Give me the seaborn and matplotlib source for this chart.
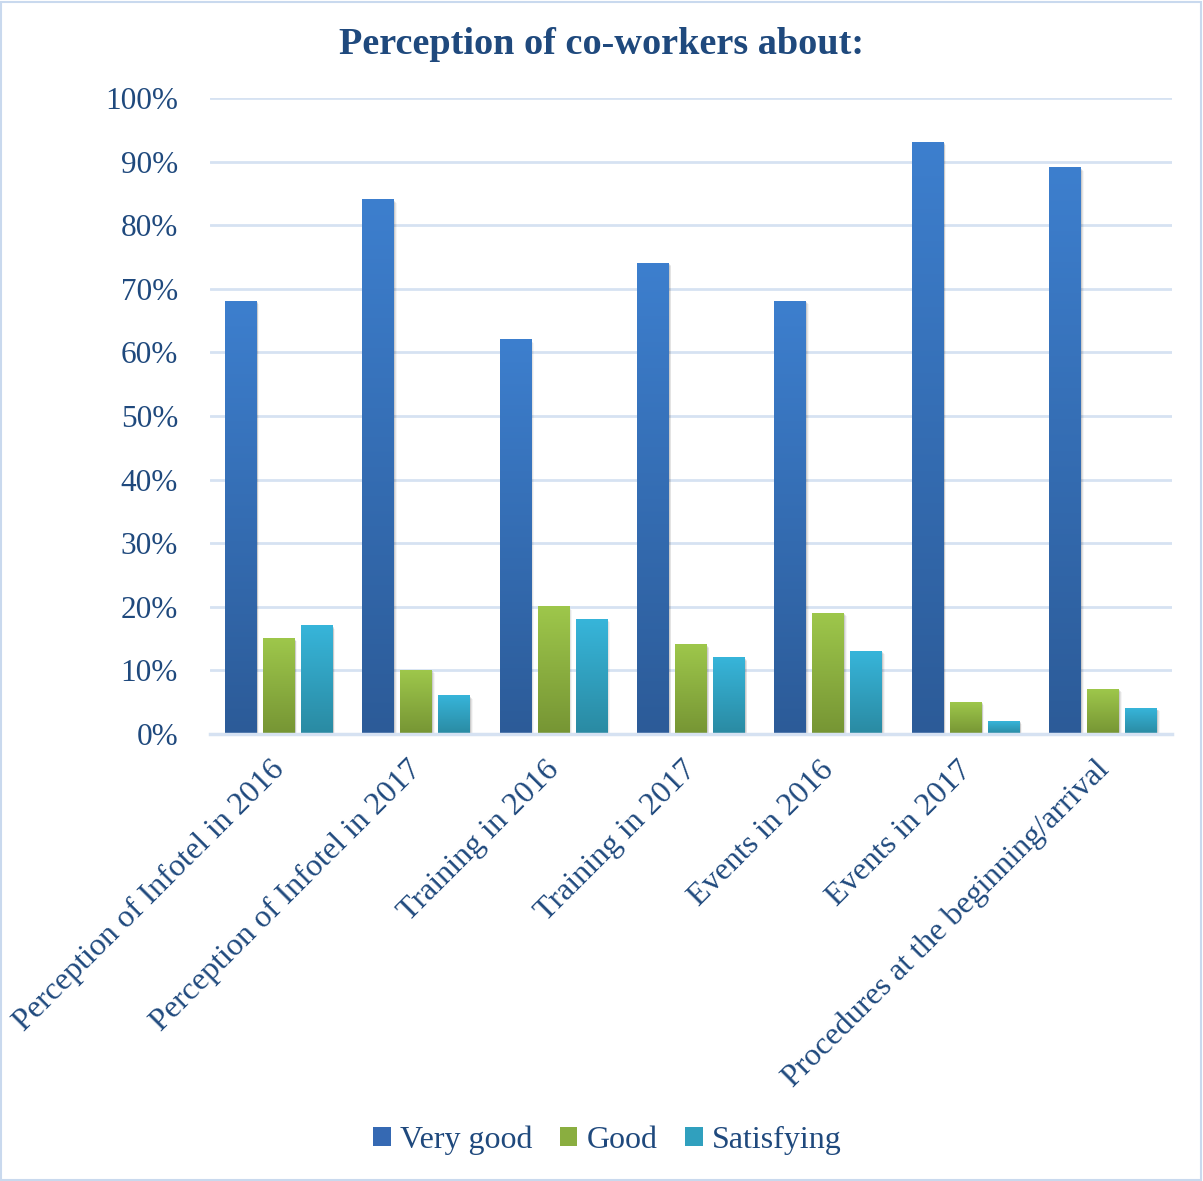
import numpy as np
import pandas as pd
import matplotlib
matplotlib.use("Agg")
import matplotlib.pyplot as plt
import seaborn as sns
from matplotlib.colors import LinearSegmentedColormap
from matplotlib.patches import Patch, Rectangle
from matplotlib.ticker import PercentFormatter
from matplotlib.transforms import ScaledTranslation

categories = [
    "Perception of Infotel in 2016",
    "Perception of Infotel in 2017",
    "Training in 2016",
    "Training in 2017",
    "Events in 2016",
    "Events in 2017",
    "Procedures at the beginning/arrival",
]
series = ["Very good", "Good", "Satisfying"]
very_good = [68, 84, 62, 74, 68, 93, 89]
good = [15, 10, 20, 14, 19, 5, 7]
satisfying = [17, 6, 18, 12, 13, 2, 4]
y_ticks = [0, 10, 20, 30, 40, 50, 60, 70, 80, 90, 100]
title = "Perception of co-workers about:"

rows = []
for name, vals in zip(series, [very_good, good, satisfying]):
    for c, v in zip(categories, vals):
        rows.append({"category": c, "series": name, "value": v})
df = pd.DataFrame(rows)

top_colors = {"Very good": "#3D7FCE", "Good": "#9EC74B", "Satisfying": "#37B5DA"}
bot_colors = {"Very good": "#2C5B98", "Good": "#769534", "Satisfying": "#2A8AA2"}
mid_colors = {"Very good": "#3569B3", "Good": "#8AAE40", "Satisfying": "#30A0BE"}

text_color = "#1F497D"
grid_color = "#D6E2F2"

sns.set_theme(style="white")
plt.rcParams["font.family"] = ["Liberation Serif", "DejaVu Serif"]

fig = plt.figure(figsize=(12.03, 11.81), dpi=100)
ax = fig.add_axes([0.1746, 0.3785, 0.7996, 0.5385])

sns.barplot(data=df, x="category", y="value", hue="series", order=categories,
            hue_order=series, palette=mid_colors, width=0.83, gap=0.16,
            legend=False, ax=ax, zorder=3)

ax.set_ylim(0, 100)
xlim = ax.get_xlim()

# gradient fill + soft shadow
for cont, name in zip(ax.containers, series):
    cmap = LinearSegmentedColormap.from_list(name, [bot_colors[name], top_colors[name]])
    grad = np.linspace(0, 1, 256).reshape(-1, 1)
    for p in cont.patches:
        x0, y0 = p.get_x(), p.get_y()
        w, h = p.get_width(), p.get_height()
        if h <= 0:
            continue
        for k, a in enumerate([0.10, 0.07, 0.04]):
            off = 0.006 * (k + 1)
            ax.add_patch(Rectangle((x0 + off, y0 - 0.15 * (k + 1)), w, h,
                                   facecolor="black", edgecolor="none",
                                   alpha=a, zorder=2))
        p.set_facecolor("none")
        p.set_edgecolor("none")
        ax.imshow(grad, cmap=cmap, origin="lower", aspect="auto",
                  extent=[x0, x0 + w, y0, y0 + h], zorder=3.5)

ax.set_xlim(xlim)
ax.set_ylim(0, 100)

ax.set_yticks(y_ticks)
ax.yaxis.set_major_formatter(PercentFormatter(decimals=0))
ax.grid(axis="y", color=grid_color, linewidth=2, zorder=0)
ax.set_axisbelow(True)
for s in ["top", "right", "left"]:
    ax.spines[s].set_visible(False)
ax.spines["bottom"].set_color(grid_color)
ax.spines["bottom"].set_linewidth(2.5)
ax.spines["bottom"].set_zorder(5)

ax.tick_params(axis="y", length=0, pad=23, labelsize=22.5, labelcolor=text_color)
ax.tick_params(axis="x", length=0, pad=6, labelsize=23, labelcolor=text_color)
ax.set_xticks(range(len(categories)))
ax.set_xticklabels(categories, rotation=45, ha="right", va="top", rotation_mode="anchor")
offset = ScaledTranslation(-9 / 100, -13 / 100, fig.dpi_scale_trans)
for lab in ax.get_xticklabels():
    lab.set_transform(lab.get_transform() + offset)
ax.set_xlabel("")
ax.set_ylabel("")

fig.text(0.5, 0.962, title, ha="center", va="center", fontsize=27.5,
         fontweight="bold", color=text_color)

handles = [Patch(facecolor=mid_colors[s], edgecolor="none") for s in series]
leg = fig.legend(handles, series, loc="center", bbox_to_anchor=(0.505, 0.0345),
                 ncol=3, frameon=False, fontsize=23, handlelength=0.55,
                 handleheight=0.55, handletextpad=0.3, columnspacing=0.85)
for t in leg.get_texts():
    t.set_color(text_color)

fig.patches.append(Rectangle((0.001, 0.001), 0.997, 0.997, transform=fig.transFigure,
                             facecolor="none", edgecolor="#C9D9EE", linewidth=1.5))

fig.savefig("out.png", dpi=100)
